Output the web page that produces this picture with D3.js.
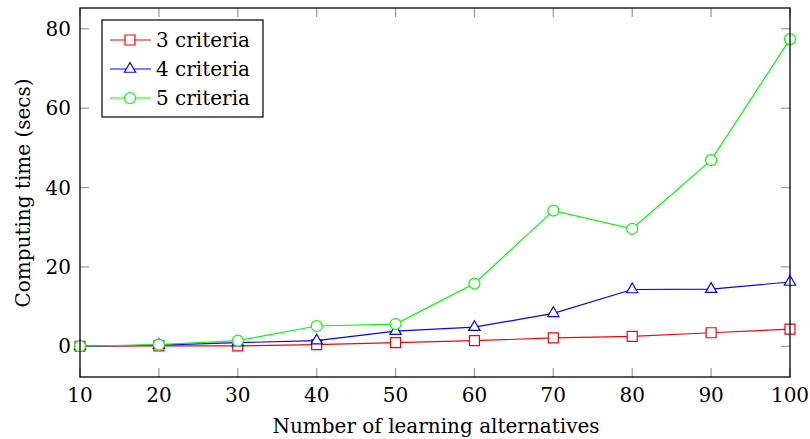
<!DOCTYPE html>
<html>
<head>
<meta charset="utf-8">
<script src="https://cdn.jsdelivr.net/npm/d3@7"></script>
<style>
  body { margin: 0; background: #fff; }
</style>
</head>
<body>
<svg id="chart"></svg>
<script>
// data
const alternatives = [10, 20, 30, 40, 50, 60, 70, 80, 90, 100];
const criteria3 = [0, 0.1, 0.1, 0.4, 0.9, 1.4, 2.1, 2.5, 3.4, 4.3];
const criteria4 = [0, 0.3, 0.9, 1.4, 3.8, 4.8, 8.3, 14.3, 14.4, 16.2];
const criteria5 = [0, 0.4, 1.4, 5.1, 5.6, 15.8, 34.2, 29.6, 46.9, 77.4];
const xTicks = [10, 20, 30, 40, 50, 60, 70, 80, 90, 100];
const yTicks = [0, 20, 40, 60, 80];

const series = [
    { name: "3 criteria", values: criteria3, color: "#ff0000", marker: "square" },
    { name: "4 criteria", values: criteria4, color: "#0000ff", marker: "triangle" },
    { name: "5 criteria", values: criteria5, color: "#00ff00", marker: "circle" }
];

const width = 810, height = 439;
const margin = { top: 8, right: 20, bottom: 62, left: 80 };
const font = "'DejaVu Serif', 'Liberation Serif', serif";
const fontSize = "20px";

const svg = d3.select("#chart")
    .attr("width", width)
    .attr("height", height)
    .attr("font-family", font)
    .style("font-family", font);

const x = d3.scaleLinear()
    .domain([10, 100])
    .range([margin.left, width - margin.right]);

// pgfplots-style enlarged y limits
const yMax = 77.5;
const y = d3.scaleLinear()
    .domain([-0.1 * yMax, yMax * 1.1])
    .range([height - margin.bottom, margin.top]);

const x0 = margin.left, x1 = width - margin.right;
const y0 = height - margin.bottom, y1 = margin.top;
const tickLen = 9;
const tickColor = "#999";

// ticks on all four sides, pointing inward
const ticks = svg.append("g").attr("stroke", tickColor).attr("stroke-width", 1.2);
xTicks.forEach(t => {
    ticks.append("line").attr("x1", x(t)).attr("x2", x(t)).attr("y1", y0).attr("y2", y0 - tickLen);
    ticks.append("line").attr("x1", x(t)).attr("x2", x(t)).attr("y1", y1).attr("y2", y1 + tickLen);
});
yTicks.forEach(t => {
    ticks.append("line").attr("y1", y(t)).attr("y2", y(t)).attr("x1", x0).attr("x2", x0 + tickLen);
    ticks.append("line").attr("y1", y(t)).attr("y2", y(t)).attr("x1", x1).attr("x2", x1 - tickLen);
});

// tick labels
svg.append("g")
    .selectAll("text")
    .data(xTicks)
    .join("text")
    .attr("x", d => x(d))
    .attr("y", y0 + 25)
    .attr("text-anchor", "middle")
    .style("font-size", fontSize)
    .text(d => d);

svg.append("g")
    .selectAll("text")
    .data(yTicks)
    .join("text")
    .attr("x", x0 - 9)
    .attr("y", d => y(d))
    .attr("dy", "0.36em")
    .attr("text-anchor", "end")
    .style("font-size", fontSize)
    .text(d => d);

// lines and markers
const line = d3.line()
    .x((d, i) => x(alternatives[i]))
    .y(d => y(d));

const sym = {
    square: d3.symbol().type(d3.symbolSquare).size(100),
    triangle: d3.symbol().type(d3.symbolTriangle).size(55),
    circle: d3.symbol().type(d3.symbolCircle).size(95)
};

series.forEach(s => {
    const g = svg.append("g");
    g.append("path")
        .datum(s.values)
        .attr("fill", "none")
        .attr("stroke", s.color)
        .attr("stroke-width", 1.2)
        .attr("d", line);
    g.selectAll("path.mark")
        .data(s.values)
        .join("path")
        .attr("class", "mark")
        .attr("transform", (d, i) => `translate(${x(alternatives[i])},${y(d)})`)
        .attr("d", sym[s.marker])
        .attr("fill", "#fff")
        .attr("stroke", s.color)
        .attr("stroke-width", 1.2);
});

// axis frame
svg.append("rect")
    .attr("x", x0)
    .attr("y", y1)
    .attr("width", x1 - x0)
    .attr("height", y0 - y1)
    .attr("fill", "none")
    .attr("stroke", "#000")
    .attr("stroke-width", 1.3);

// axis titles
svg.append("text")
    .attr("x", 436)
    .attr("y", 433)
    .attr("text-anchor", "middle")
    .style("font-size", fontSize)
    .text("Number of learning alternatives");

svg.append("text")
    .attr("transform", `translate(30,193) rotate(-90)`)
    .attr("text-anchor", "middle")
    .style("font-size", fontSize)
    .text("Computing time (secs)");

// legend
const legend = svg.append("g").attr("transform", "translate(102,20)");
legend.append("rect")
    .attr("width", 161)
    .attr("height", 97)
    .attr("fill", "#fff")
    .attr("stroke", "#000")
    .attr("stroke-width", 1.2);

series.forEach((s, i) => {
    const ly = 20 + i * 29;
    legend.append("line")
        .attr("x1", 8).attr("x2", 49)
        .attr("y1", ly).attr("y2", ly)
        .attr("stroke", s.color)
        .attr("stroke-width", 1.2);
    legend.append("path")
        .attr("transform", `translate(28,${ly})`)
        .attr("d", sym[s.marker])
        .attr("fill", "#fff")
        .attr("stroke", s.color)
        .attr("stroke-width", 1.2);
    legend.append("text")
        .attr("x", 54)
        .attr("y", ly)
        .attr("dy", "0.36em")
        .style("font-size", fontSize)
        .text(s.name);
});
</script>
</body>
</html>
